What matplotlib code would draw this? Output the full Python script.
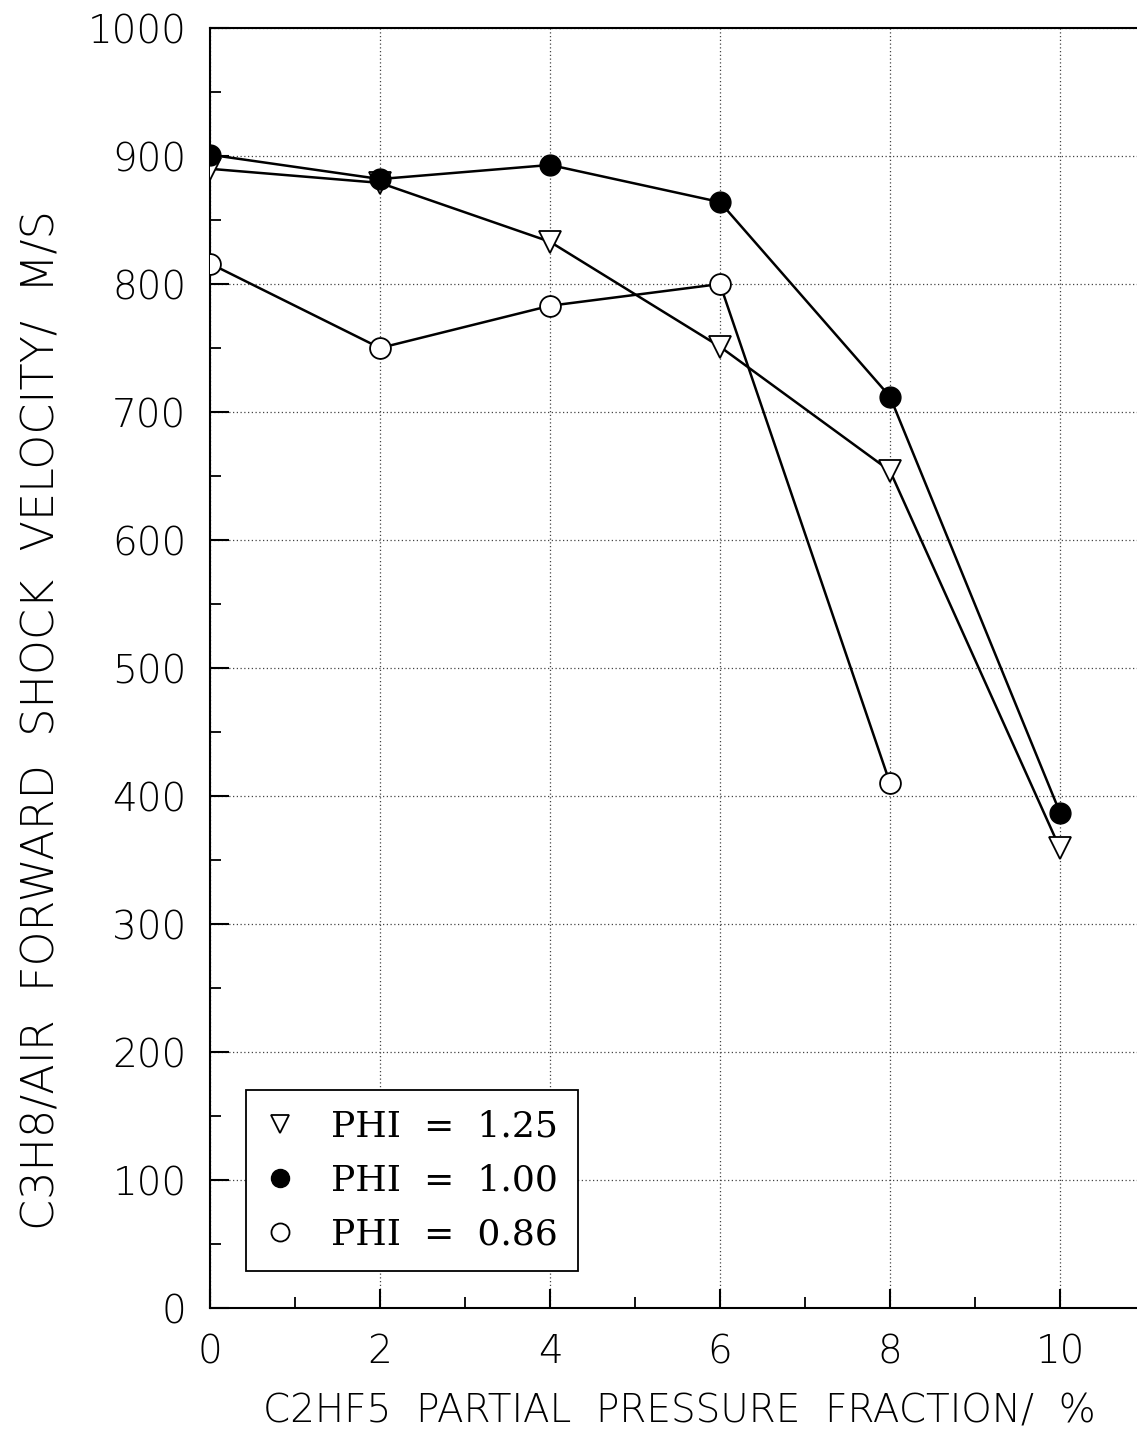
import matplotlib
matplotlib.use("Agg")
import matplotlib.pyplot as plt
from matplotlib.ticker import MultipleLocator

x = [0, 2, 4, 6, 8, 10]
phi125 = [890, 879, 833, 751, 654, 359]
phi100 = [901, 882, 893, 864, 712, 387]
x086 = [0, 2, 4, 6, 8]
phi086 = [816, 750, 783, 800, 410]
labels = ["PHI  =  1.25", "PHI  =  1.00", "PHI  =  0.86"]

W, H = 1137, 1435
fig = plt.figure(figsize=(W / 100, H / 100), dpi=100)
left, bottom, top = 210 / W, 1 - 1308 / H, 1 - 28 / H
ax = fig.add_axes([left, bottom, 1020 / W, top - bottom])

lw = 1.8
ms = 15
ax.plot(x, phi125, color="black", lw=lw, marker="v", ms=ms * 1.05, mfc="white", mec="black", mew=1.3,
        label=labels[0], zorder=3)
ax.plot(x, phi100, color="black", lw=lw, marker="o", ms=ms, mfc="black", mec="black",
        label=labels[1], zorder=4)
ax.plot(x086, phi086, color="black", lw=lw, marker="o", ms=ms, mfc="white", mec="black", mew=1.3,
        label=labels[2], zorder=3)

ax.set_xlim(0, 12)
ax.set_ylim(0, 1000)
ax.xaxis.set_major_locator(MultipleLocator(2))
ax.xaxis.set_minor_locator(MultipleLocator(1))
ax.yaxis.set_major_locator(MultipleLocator(100))
ax.yaxis.set_minor_locator(MultipleLocator(50))
ax.set_xticks([0, 2, 4, 6, 8, 10])
ax.grid(True, which="major", linestyle=(0, (1, 2)), color="#444444", lw=0.9)
ax.tick_params(which="major", direction="in", length=14, width=1.5, labelsize=28, pad=18)
ax.tick_params(which="minor", direction="in", length=8, width=1.3)
ax.tick_params(axis="y", pad=17)
for lab in ax.get_xticklabels() + ax.get_yticklabels():
    lab.set_fontweight("light")
    lab.set_family("DejaVu Sans")
for s in ax.spines.values():
    s.set_linewidth(1.5)

ax.set_xlabel("C2HF5  PARTIAL  PRESSURE  FRACTION/  %", fontsize=28, fontweight="light",
              va="center", ha="center")
ax.xaxis.set_label_coords((679 - 210) / 1020, -(1412 - 1308) / (1308 - 28))
ax.set_ylabel("C3H8/AIR  FORWARD  SHOCK  VELOCITY/  M/S", fontsize=32, fontweight="light",
              va="center", ha="center")
ax.yaxis.set_label_coords(-(210 - 42) / 1020, (1308 - 720) / (1308 - 28))

leg = ax.legend(loc="lower left", bbox_to_anchor=((246 - 210) / 1020, (1308 - 1271) / 1280),
                prop={"family": "DejaVu Serif", "size": 26}, frameon=True, fancybox=False,
                edgecolor="black", framealpha=1, handlelength=0.8, handletextpad=1.0,
                borderpad=0.55, labelspacing=0.55, borderaxespad=0)
leg.get_frame().set_linewidth(1.3)
for h in leg.legend_handles:
    h.set_linestyle("none")
    h.set_markersize(13)

fig.savefig("out.png", dpi=100)
